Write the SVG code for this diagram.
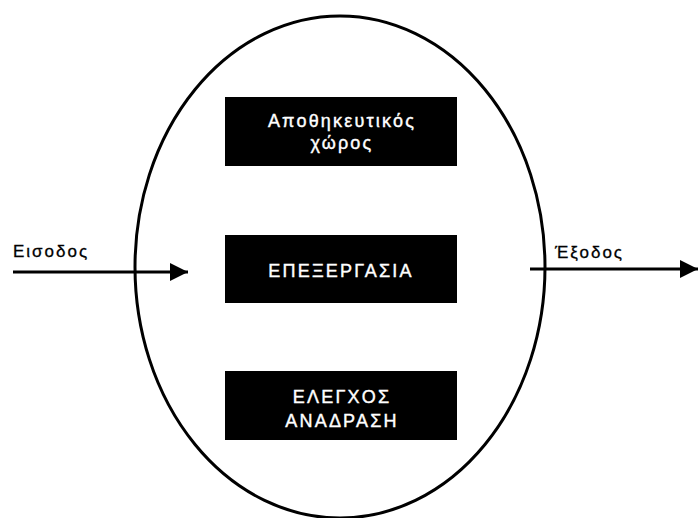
<svg xmlns="http://www.w3.org/2000/svg" width="698" height="518" viewBox="0 0 698 518">
<style>
.box{fill:#000}
.bt{fill:#fff;stroke:#fff;stroke-width:0.4;font-family:"Liberation Sans",Arial,sans-serif;font-size:18px;letter-spacing:2.2px;text-anchor:middle}
.lbl{fill:#000;stroke:#000;stroke-width:0.3;font-family:"Liberation Sans",Arial,sans-serif;font-size:17px;letter-spacing:2px}
.con{stroke:#000;stroke-width:3;fill:none}
</style>
<defs>
<marker id="ah" viewBox="0 0 10 10" refX="10" refY="5" markerWidth="8" markerHeight="6" markerUnits="strokeWidth" orient="auto">
<path d="M0,0 L10,5 L0,10 z" fill="#000"/>
</marker>
</defs>
<rect width="698" height="518" fill="#fff"/>
<g id="system">
<ellipse cx="340" cy="267" rx="205" ry="251" fill="none" stroke="#000" stroke-width="3"/>
</g>
<g id="storage">
<rect class="box" x="225" y="97" width="232" height="69"/>
<text class="bt" x="342" y="127">Αποθηκευτικός</text>
<text class="bt" x="342" y="149">χώρος</text>
</g>
<g id="processing">
<rect class="box" x="225" y="235" width="232" height="68"/>
<text class="bt" x="341" y="277">ΕΠΕΞΕΡΓΑΣΙΑ</text>
</g>
<g id="control">
<rect class="box" x="225" y="371" width="232" height="69"/>
<text class="bt" x="342" y="403">ΕΛΕΓΧΟΣ</text>
<text class="bt" x="342" y="427">ΑΝΑΔΡΑΣΗ</text>
</g>
<g id="connectors">
<line class="con" x1="13" y1="272" x2="188" y2="272" marker-end="url(#ah)"/>
<line class="con" x1="530" y1="269" x2="698" y2="269" marker-end="url(#ah)"/>
</g>
<g id="labels">
<text class="lbl" x="13" y="257">Εισοδος</text>
<text class="lbl" x="555" y="258">Έξοδος</text>
</g>
</svg>
